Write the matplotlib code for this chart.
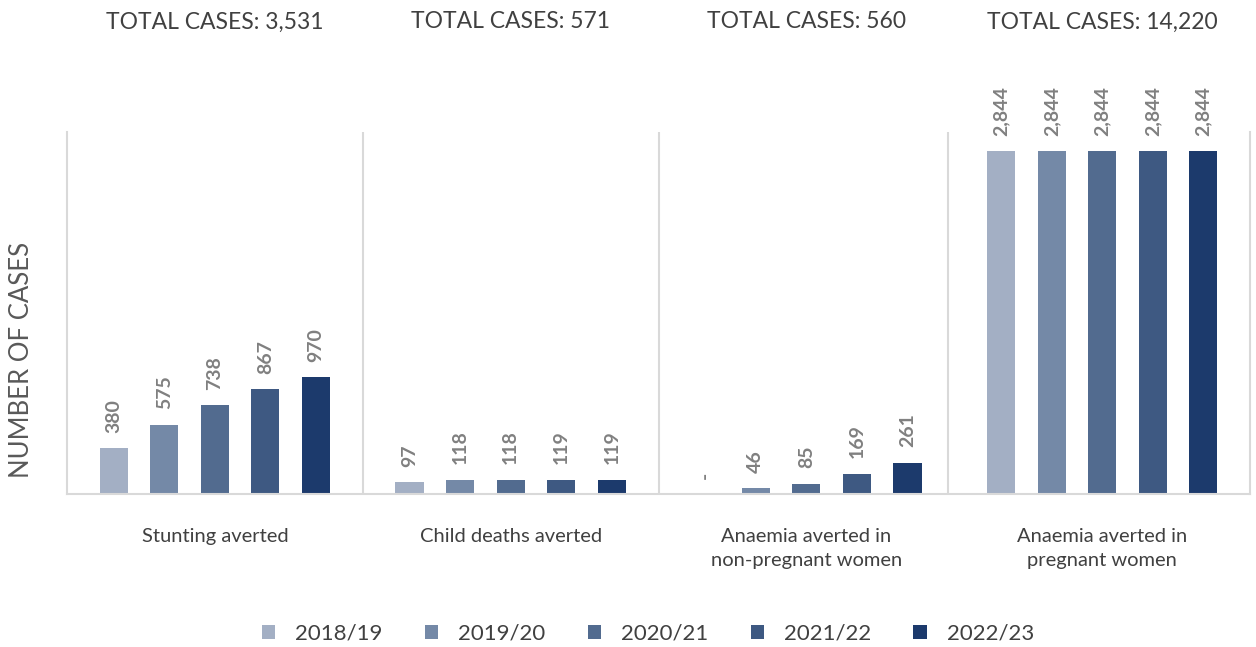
import matplotlib
matplotlib.use("Agg")
import matplotlib.pyplot as plt
from matplotlib.patches import Patch
from matplotlib.transforms import blended_transform_factory

plt.rcParams['font.family'] = ['Lato', 'DejaVu Sans']

categories = ["Stunting averted", "Child deaths averted",
              "Anaemia averted in\nnon-pregnant women",
              "Anaemia averted in\npregnant women"]
totals = ["TOTAL CASES: 3,531", "TOTAL CASES: 571",
          "TOTAL CASES: 560", "TOTAL CASES: 14,220"]
years = ["2018/19", "2019/20", "2020/21", "2021/22", "2022/23"]
values = {
    "2018/19": [380, 97, 0, 2844],
    "2019/20": [575, 118, 46, 2844],
    "2020/21": [738, 118, 85, 2844],
    "2021/22": [867, 119, 169, 2844],
    "2022/23": [970, 119, 261, 2844],
}
colors = ["#A3AFC4", "#7489A7", "#526B8F", "#3E5982", "#1C3A6C"]

fig = plt.figure(figsize=(12.56, 6.47), dpi=100)
ax = fig.add_axes([67/1256, 1-494/647, (1250-67)/1256, (494-132)/647])

spacing = 0.171
width = 0.095
for i, yr in enumerate(years):
    xs = [c + (i - 2) * spacing for c in range(len(categories))]
    ax.bar(xs, values[yr], width=width, color=colors[i], label=yr, zorder=2)
    for x, v in zip(xs, values[yr]):
        lab = "-" if v == 0 else f"{v:,}"
        ax.annotate(lab, (x, v), xytext=(0, 11), textcoords="offset points",
                    rotation=90, ha="center", va="bottom", fontsize=14,
                    color="#808080", fontweight="bold")

ax.set_xlim(-0.5, len(categories) - 0.5)
ax.set_ylim(0, 3000)
ax.set_yticks([])
ax.set_xticks([])
ax.spines["top"].set_visible(False)
for s in ["left", "right", "bottom"]:
    ax.spines[s].set_color("#D9D9D9")
    ax.spines[s].set_linewidth(1.5)
for xb in [0.5, 1.5, 2.48]:
    ax.axvline(xb, color="#D9D9D9", lw=1.5, zorder=1)

trans = blended_transform_factory(ax.transData, ax.transAxes)
for c, (cat, tot) in enumerate(zip(categories, totals)):
    ax.text(c, 1.304, tot, transform=trans, ha="center", va="center",
            fontsize=16.5, color="#404040")
    ax.text(c, -0.095, cat, transform=trans, ha="center", va="top",
            fontsize=14.5, color="#404040", linespacing=1.45)

fig.text(22/1256, 1-360/647, "NUMBER OF CASES", rotation=90, ha="center",
         va="center", fontsize=18.5, color="#595959")

handles = [Patch(facecolor=c, label=y) for c, y in zip(colors, years)]
fig.legend(handles=handles, loc="center", bbox_to_anchor=(648/1256, 1-634/647),
           ncol=5, frameon=False, fontsize=16, handlelength=0.6, handleheight=0.6,
           columnspacing=1.9, handletextpad=0.9, labelcolor="#404040")

fig.savefig("out.png", dpi=100)
